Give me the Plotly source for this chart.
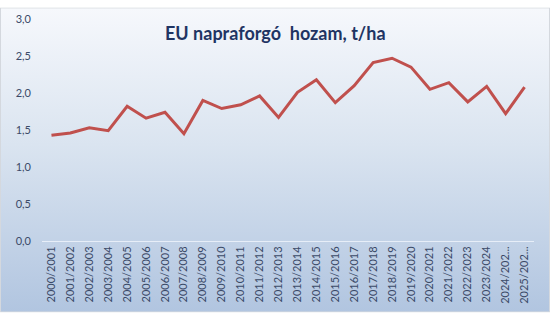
import base64
import plotly.graph_objects as go

seasons = ["2000/2001", "2001/2002", "2002/2003", "2003/2004", "2004/2005", "2005/2006",
           "2006/2007", "2007/2008", "2008/2009", "2009/2010", "2010/2011", "2011/2012",
           "2012/2013", "2013/2014", "2014/2015", "2015/2016", "2016/2017", "2017/2018",
           "2018/2019", "2019/2020", "2020/2021", "2021/2022", "2022/2023", "2023/2024",
           "2024/202...", "2025/202..."]
yield_t_ha = [1.43, 1.46, 1.53, 1.49, 1.82, 1.66, 1.74, 1.45, 1.90, 1.79, 1.84, 1.96,
              1.67, 2.01, 2.18, 1.87, 2.10, 2.41, 2.47, 2.35, 2.05, 2.14, 1.88, 2.09,
              1.72, 2.08]
y_ticks = [0, 0.5, 1.0, 1.5, 2.0, 2.5, 3.0]
y_tick_text = ["0,0", "0,5", "1,0", "1,5", "2,0", "2,5", "3,0"]

W, H = 550, 316
ML, MR, MT, MB = 42, 16, 12, 74
PW, PH = W - ML - MR, H - MT - MB

svg = f"""<svg xmlns='http://www.w3.org/2000/svg' width='{W}' height='{H}' viewBox='0 0 {W} {H}'>
<defs><linearGradient id='g' x1='0' y1='0' x2='0' y2='1'>
<stop offset='0' stop-color='#f6f8fc'/><stop offset='0.45' stop-color='#dae4f0'/>
<stop offset='1' stop-color='#b1c5e0'/></linearGradient></defs>
<rect x='0.5' y='0.5' width='{W-1}' height='{H-1}' fill='url(#g)' stroke='#d4d8de' stroke-width='1'/>
</svg>"""
src = "data:image/svg+xml;base64," + base64.b64encode(svg.encode()).decode()

fig = go.Figure()
fig.add_trace(go.Scatter(x=seasons, y=yield_t_ha, mode="lines",
                         line=dict(color="#c0504d", width=3), hoverinfo="skip"))

fig.update_layout(
    width=W, height=H,
    margin=dict(l=ML, r=MR, t=MT, b=MB),
    paper_bgcolor="rgba(0,0,0,0)", plot_bgcolor="rgba(0,0,0,0)",
    showlegend=False,
    font=dict(family="Lato", color="#3f4d6b"),
    images=[dict(source=src, xref="paper", yref="paper",
                 x=-ML / PW, y=1 + MT / PH, sizex=W / PW, sizey=H / PH,
                 xanchor="left", yanchor="top", sizing="stretch", layer="below")],
    annotations=[dict(text="<b>EU napraforgó  hozam, t/ha</b>", xref="paper", yref="paper",
                      x=(275 - ML) / PW, y=1 - (27 - MT) / PH, xanchor="center", yanchor="middle",
                      showarrow=False, font=dict(family="Lato", size=18, color="#1f3463"))],
)
fig.update_xaxes(type="category", range=[-0.5, 25.5], showgrid=False, zeroline=False,
                 showline=True, linecolor="rgba(235,241,250,0.9)", linewidth=1,
                 tickangle=-90, tickfont=dict(size=11, color="#3b4a68"), ticks="")
fig.update_yaxes(range=[0, 3.0], tickvals=y_ticks, ticktext=y_tick_text, showgrid=False,
                 zeroline=False, showline=False, ticks="", ticklabelstandoff=10,
                 tickfont=dict(size=11, color="#3b4a68"))

fig.write_html("out.html")
